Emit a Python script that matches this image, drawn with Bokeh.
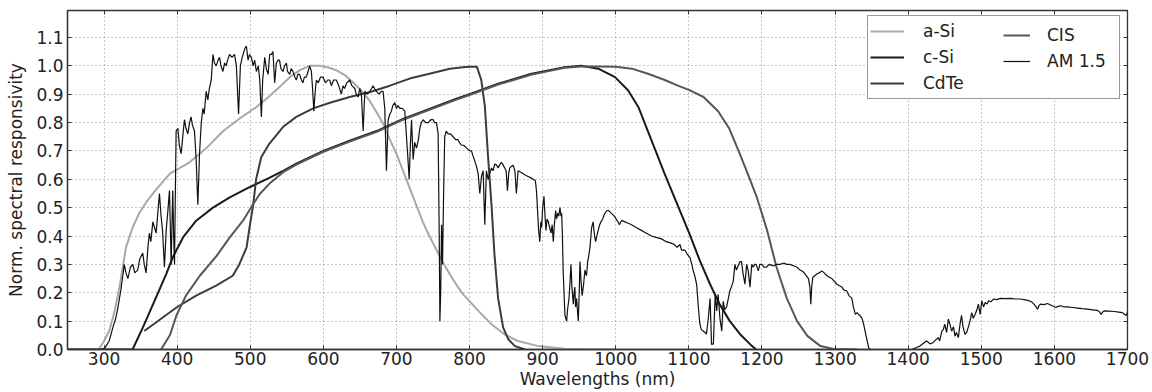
from bokeh.plotting import figure
from bokeh.models import (Legend, LegendItem, FixedTicker, PrintfTickFormatter,
                          LinearAxis, Range1d)
from bokeh.embed import file_html
from bokeh.resources import INLINE

# ---------------- data ----------------
x_ticks = [300, 400, 500, 600, 700, 800, 900, 1000, 1100, 1200, 1300, 1400, 1500, 1600, 1700]
y_ticks = [0.0, 0.1, 0.2, 0.3, 0.4, 0.5, 0.6, 0.7, 0.8, 0.9, 1.0, 1.1]

asi_wl = [250, 290, 294, 300, 307, 314, 321, 330, 339, 348, 358, 370, 390, 417, 440, 463,
          486, 508, 525, 540, 554, 568, 581, 595, 608, 618, 630, 640, 652, 663, 672, 682,
          690, 700, 709, 718, 727, 736, 745, 755, 764, 773, 782, 791, 800, 812, 830, 848,
          866, 894, 930, 1000]
asi_val = [0, 0, 0.005, 0.03, 0.065, 0.13, 0.218, 0.36, 0.43, 0.48, 0.52, 0.56, 0.62, 0.66,
           0.71, 0.77, 0.815, 0.854, 0.89, 0.925, 0.96, 0.985, 1.0, 1.0, 0.993, 0.984, 0.966,
           0.943, 0.912, 0.878, 0.84, 0.795, 0.745, 0.69, 0.63, 0.57, 0.51, 0.45, 0.40, 0.35,
           0.305, 0.265, 0.228, 0.195, 0.17, 0.136, 0.089, 0.053, 0.03, 0.012, 0.003, 0]

csi_wl = [250, 339, 353, 371, 385, 394, 408, 426, 449, 472, 499, 526, 545, 563, 600, 636,
          673, 709, 745, 782, 800, 839, 885, 930, 953, 976, 999, 1017, 1031, 1049, 1067,
          1086, 1101, 1115, 1129, 1142, 1156, 1170, 1184, 1192]
csi_val = [0, 0, 0.077, 0.183, 0.266, 0.325, 0.395, 0.454, 0.50, 0.536, 0.572, 0.605, 0.63,
           0.655, 0.70, 0.736, 0.77, 0.813, 0.848, 0.884, 0.90, 0.937, 0.972, 0.995, 1.0,
           0.99, 0.96, 0.913, 0.854, 0.736, 0.618, 0.50, 0.407, 0.313, 0.23, 0.16, 0.10,
           0.054, 0.018, 0.0]

cdte_wl = [355, 371, 399, 426, 454, 476, 485, 495, 499, 504, 508, 515, 526, 545, 563, 586,
           609, 636, 663, 691, 718, 745, 773, 791, 800, 810, 816, 821, 825, 830, 834, 839,
           846, 853, 862, 876]
cdte_val = [0.065, 0.095, 0.148, 0.19, 0.226, 0.26, 0.30, 0.36, 0.43, 0.51, 0.60, 0.678,
            0.725, 0.785, 0.82, 0.85, 0.87, 0.89, 0.907, 0.93, 0.955, 0.972, 0.99, 0.995,
            0.997, 0.997, 0.95, 0.855, 0.69, 0.51, 0.337, 0.18, 0.077, 0.036, 0.012, 0.0]

cis_wl = [378, 390, 399, 412, 431, 454, 472, 490, 501, 513, 526, 545, 563, 600, 636, 673,
          709, 745, 782, 800, 839, 885, 930, 953, 976, 1000, 1022, 1044, 1067, 1085, 1100,
          1120, 1140, 1155, 1168, 1179, 1193, 1207, 1220, 1234, 1248, 1262, 1280, 1298, 1330]
cis_val = [0, 0.05, 0.12, 0.19, 0.26, 0.33, 0.395, 0.454, 0.50, 0.548, 0.584, 0.625, 0.652,
           0.697, 0.733, 0.767, 0.81, 0.845, 0.881, 0.897, 0.934, 0.969, 0.993, 0.998, 0.998,
           0.997, 0.99, 0.972, 0.95, 0.93, 0.915, 0.89, 0.84, 0.78, 0.70, 0.63, 0.536, 0.42,
           0.289, 0.18, 0.10, 0.048, 0.012, 0.002, 0]

am15_wl = [250, 280, 295, 301, 307, 312, 316, 319, 323, 326, 327.6, 330, 332.6, 336, 339.4,
           342, 346, 349, 352.9, 355, 357.5, 360, 362, 364, 366.7, 369, 371.2, 373.5, 375.8,
           378, 380, 382.6, 385, 387, 389.5, 391.8, 393, 394, 395.2, 396.4, 397.5, 398.6,
           401, 403, 405.5, 408, 410, 412, 414.6, 417, 419, 421, 423.7, 426, 428.3, 429.5,
           430.6, 433, 435.2, 437, 439.7, 442, 444, 446.6, 448.9, 451, 453.4, 456, 458, 460,
           462.6, 465, 467, 469, 471.7, 475, 478.5, 481, 484, 486.5, 489, 492.4, 494.7, 497,
           499, 501.5, 504, 506, 508.4, 511, 513, 515.2, 517, 519.8, 522, 524.4, 526.6, 529,
           531, 533.4, 535.7, 538, 540, 542, 544.8, 547, 549.4, 551, 554, 556, 558.5, 561,
           563, 565, 567.6, 570, 572, 574, 576.7, 579, 581.3, 583.6, 585, 587, 588.5, 590.4,
           593, 596, 599.5, 603, 606, 608.6, 611, 614, 617.8, 621, 624.6, 627, 629, 632, 636,
           639, 643, 645, 647.5, 649.8, 652, 654.4, 656.7, 660, 663.5, 666, 668, 670, 672.6,
           676, 679, 681.7, 684, 686.3, 688.6, 691, 693, 695, 697.7, 700, 702, 704.6, 708,
           711.4, 713.7, 715.5, 717.4, 719, 720.6, 722.8, 725, 727.4, 730, 732, 734, 736.5,
           740, 743.4, 747, 750.2, 752, 754.8, 757, 758.5, 759.4, 760.5, 761.7, 763, 764.5,
           766, 768, 770.6, 774, 777.4, 781, 784, 786, 789, 792, 796, 800.4, 802.6, 805, 807,
           809, 811.7, 814, 816.3, 818.6, 820.8, 823, 825.4, 827.5, 830, 832, 834.5, 837, 839,
           841, 843.6, 846, 848, 850, 851.8, 853.5, 855, 857, 859.6, 862, 864, 866.4, 870,
           873, 876, 880, 884, 887, 890, 891.5, 893, 894.5, 896, 897.5, 898.6, 900, 901.8,
           903, 904.5, 906, 907.7, 909.5, 911.4, 913, 914.5, 916, 917.8, 919, 920.5, 922,
           923.7, 925, 926, 927, 928, 929.5, 930.5, 932.8, 934, 936, 937.5, 938.7, 940, 941.9,
           943, 944, 945, 946.4, 947.5, 948.7, 950, 951, 952.5, 954, 956, 957.8, 960, 961.5,
           963, 964.7, 966, 967, 969, 971, 972.5, 974, 976, 978, 979.7, 982, 985, 988, 990,
           992, 994, 998, 1003, 1005, 1008, 1012.5, 1017, 1021.6, 1028, 1035, 1042, 1049,
           1055, 1062.6, 1069, 1076, 1080, 1084, 1087.8, 1090, 1094.6, 1098, 1101.5, 1104,
           1106, 1108, 1110.6, 1113, 1115, 1117, 1119.6, 1122, 1124, 1126.6, 1129, 1130, 1131,
           1133.5, 1136, 1138, 1140, 1142.5, 1145, 1147, 1149, 1151.6, 1154, 1156, 1158,
           1160.7, 1163, 1165, 1167.5, 1170, 1172, 1174, 1176.7, 1179, 1181, 1183.6, 1186,
           1188, 1190, 1192, 1195, 1197, 1199.6, 1203, 1206, 1210, 1215.6, 1220, 1224.7, 1230,
           1233.8, 1238, 1243, 1248, 1252, 1256, 1259, 1263.6, 1265.5, 1266.8, 1268, 1269.5,
           1272, 1275, 1278, 1282, 1285, 1289, 1292, 1295.6, 1299, 1302.5, 1306, 1309.3, 1312,
           1316, 1319, 1323, 1325, 1327.7, 1330, 1332, 1334, 1336.8, 1339, 1341, 1343.5, 1346,
           1348, 1405, 1412, 1416, 1420, 1425, 1430, 1434, 1438, 1441, 1443, 1446, 1448, 1450,
           1452.5, 1455, 1457, 1459.5, 1462, 1464, 1466, 1468.6, 1471, 1473, 1475, 1477.7,
           1480, 1482, 1484.5, 1487, 1489, 1491.6, 1494, 1496, 1498.5, 1500.7, 1503, 1505.4,
           1508, 1510, 1513, 1517, 1521, 1526, 1533, 1540, 1547, 1553.5, 1560, 1565, 1569,
           1572, 1575, 1577, 1579, 1581, 1586, 1590.5, 1594, 1597, 1602, 1605, 1609, 1613,
           1618, 1625, 1631.6, 1638, 1645, 1652, 1659, 1662, 1664, 1666, 1668, 1675, 1682,
           1688, 1693, 1698, 1700]
am15_val = [0, 0, 0.0, 0.005, 0.03, 0.077, 0.11, 0.148, 0.21, 0.266, 0.30, 0.27, 0.25, 0.29,
            0.30, 0.27, 0.28, 0.32, 0.34, 0.30, 0.27, 0.36, 0.41, 0.38, 0.45, 0.43, 0.41,
            0.48, 0.55, 0.47, 0.42, 0.29, 0.42, 0.48, 0.56, 0.30, 0.45, 0.56, 0.40, 0.30,
            0.55, 0.77, 0.78, 0.72, 0.69, 0.76, 0.81, 0.78, 0.76, 0.80, 0.82, 0.79, 0.77,
            0.67, 0.51, 0.60, 0.69, 0.80, 0.85, 0.83, 0.91, 0.88, 0.92, 0.95, 1.04, 1.01,
            1.0, 1.02, 1.03, 1.0, 0.98, 1.01, 1.0, 1.02, 1.04, 1.03, 1.04, 1.0, 0.83, 1.0,
            1.03, 1.06, 1.07, 1.02, 1.04, 1.03, 1.0, 1.02, 0.98, 1.0, 0.95, 0.82, 0.95, 1.03,
            0.99, 0.97, 1.04, 1.04, 1.05, 0.94, 1.01, 1.02, 1.02, 0.99, 0.98, 1.0, 1.01, 0.98,
            0.97, 0.99, 0.98, 0.96, 0.95, 0.97, 0.97, 0.95, 0.94, 0.96, 0.96, 0.98, 1.0, 0.98,
            0.93, 0.84, 0.90, 0.95, 0.94, 0.96, 0.96, 0.94, 0.95, 0.95, 0.93, 0.95, 0.95,
            0.93, 0.90, 0.93, 0.92, 0.94, 0.95, 0.93, 0.92, 0.90, 0.89, 0.92, 0.90, 0.77,
            0.91, 0.90, 0.91, 0.92, 0.93, 0.92, 0.91, 0.90, 0.91, 0.91, 0.85, 0.63, 0.81,
            0.83, 0.84, 0.86, 0.87, 0.85, 0.86, 0.85, 0.85, 0.84, 0.75, 0.68, 0.60, 0.72,
            0.81, 0.67, 0.73, 0.71, 0.74, 0.78, 0.80, 0.81, 0.80, 0.80, 0.81, 0.81, 0.80,
            0.80, 0.76, 0.40, 0.10, 0.20, 0.44, 0.30, 0.55, 0.75, 0.77, 0.76, 0.76, 0.75,
            0.74, 0.74, 0.73, 0.72, 0.72, 0.71, 0.70, 0.70, 0.68, 0.666, 0.65, 0.62, 0.55,
            0.61, 0.63, 0.44, 0.63, 0.60, 0.62, 0.64, 0.63, 0.654, 0.65, 0.64, 0.65, 0.66,
            0.65, 0.64, 0.63, 0.56, 0.62, 0.64, 0.645, 0.65, 0.63, 0.55, 0.63, 0.625, 0.62,
            0.615, 0.61, 0.605, 0.60, 0.595, 0.56, 0.49, 0.42, 0.38, 0.45, 0.43, 0.50, 0.54,
            0.48, 0.42, 0.46, 0.45, 0.43, 0.41, 0.44, 0.38, 0.44, 0.49, 0.46, 0.48, 0.47,
            0.50, 0.47, 0.48, 0.40, 0.28, 0.18, 0.12, 0.10, 0.14, 0.18, 0.24, 0.30, 0.22,
            0.16, 0.20, 0.22, 0.15, 0.18, 0.14, 0.10, 0.20, 0.31, 0.24, 0.19, 0.23, 0.28,
            0.26, 0.31, 0.33, 0.36, 0.40, 0.43, 0.45, 0.40, 0.38, 0.40, 0.42, 0.44, 0.45,
            0.46, 0.48, 0.49, 0.49, 0.485, 0.48, 0.47, 0.45, 0.44, 0.455, 0.45, 0.445, 0.44,
            0.43, 0.42, 0.41, 0.40, 0.395, 0.39, 0.38, 0.375, 0.37, 0.36, 0.37, 0.35, 0.35,
            0.335, 0.324, 0.30, 0.277, 0.26, 0.23, 0.148, 0.09, 0.07, 0.065, 0.06, 0.054,
            0.11, 0.18, 0.10, 0.018, 0.02, 0.195, 0.136, 0.195, 0.11, 0.065, 0.17, 0.14,
            0.15, 0.18, 0.206, 0.22, 0.24, 0.30, 0.28, 0.295, 0.31, 0.31, 0.27, 0.23, 0.30,
            0.28, 0.22, 0.30, 0.29, 0.30, 0.30, 0.277, 0.30, 0.30, 0.29, 0.29, 0.30, 0.295,
            0.30, 0.30, 0.305, 0.30, 0.30, 0.295, 0.29, 0.28, 0.275, 0.266, 0.25, 0.22, 0.16,
            0.22, 0.254, 0.26, 0.266, 0.27, 0.277, 0.27, 0.26, 0.255, 0.25, 0.24, 0.23,
            0.225, 0.22, 0.21, 0.206, 0.19, 0.18, 0.15, 0.124, 0.13, 0.124, 0.12, 0.11, 0.09,
            0.065, 0.035, 0.006, 0.0, 0.0, 0.008, 0.012, 0.02, 0.03, 0.02, 0.024, 0.035,
            0.042, 0.03, 0.065, 0.07, 0.089, 0.06, 0.107, 0.09, 0.065, 0.08, 0.047, 0.06,
            0.042, 0.09, 0.12, 0.08, 0.053, 0.06, 0.077, 0.10, 0.13, 0.11, 0.124, 0.14, 0.16,
            0.124, 0.172, 0.15, 0.166, 0.16, 0.172, 0.168, 0.178, 0.176, 0.18, 0.179, 0.18,
            0.178, 0.178, 0.175, 0.172, 0.168, 0.16, 0.15, 0.142, 0.155, 0.16, 0.158, 0.162,
            0.158, 0.154, 0.148, 0.152, 0.154, 0.15, 0.15, 0.148, 0.146, 0.144, 0.142, 0.14,
            0.138, 0.132, 0.124, 0.132, 0.136, 0.135, 0.134, 0.132, 0.13, 0.12, 0.13]

series_labels = ["a-Si", "c-Si", "CdTe", "CIS", "AM 1.5"]

# ---------------- figure ----------------
FONT = "DejaVu Sans"
p = figure(width=1152, height=392, output_backend="svg", toolbar_location=None,
           x_range=Range1d(250, 1700), y_range=Range1d(0, 1.195),
           min_border_left=67, min_border_right=25, min_border_top=10,
           min_border_bottom=43, background_fill_color="white",
           border_fill_color="white")

p.outline_line_color = "#333333"
p.outline_line_width = 1.3

for ax in (p.xaxis[0], p.yaxis[0]):
    ax.axis_line_color = "#333333"
    ax.axis_line_width = 1.3
    ax.major_tick_in = 4
    ax.major_tick_out = 0
    ax.major_tick_line_color = "#333333"
    ax.minor_tick_line_color = None
    ax.major_label_text_font = FONT
    ax.major_label_text_font_size = "17px"
    ax.major_label_text_color = "#222222"
    ax.axis_label_text_font = FONT
    ax.axis_label_text_font_size = "17px"
    ax.axis_label_text_font_style = "normal"
    ax.axis_label_text_color = "#222222"

p.xaxis[0].ticker = FixedTicker(ticks=x_ticks)
p.yaxis[0].ticker = FixedTicker(ticks=y_ticks)
p.yaxis[0].formatter = PrintfTickFormatter(format="%.1f")
p.xaxis[0].axis_label = "Wavelengths (nm)"
p.yaxis[0].axis_label = "Norm. spectral responsivity"
p.xaxis[0].major_label_standoff = 2
p.xaxis[0].axis_label_standoff = 1
p.yaxis[0].major_label_standoff = 4
p.yaxis[0].axis_label_standoff = 7

# inward ticks on top and right (no labels painted)
for side, tks in (("above", x_ticks), ("right", y_ticks)):
    ax = LinearAxis(ticker=FixedTicker(ticks=tks))
    ax.axis_line_color = None
    ax.major_tick_in = 4
    ax.major_tick_out = 0
    ax.major_tick_line_color = "#333333"
    ax.minor_tick_line_color = None
    ax.major_label_text_font_size = "1px"
    ax.major_label_text_color = None
    ax.major_label_standoff = 0
    p.add_layout(ax, side)

p.xgrid.ticker = FixedTicker(ticks=x_ticks)
p.ygrid.ticker = FixedTicker(ticks=y_ticks)
for g in (p.xgrid[0], p.ygrid[0]):
    g.grid_line_color = "#8a8a8a"
    g.grid_line_dash = "1 3"
    g.grid_line_width = 1

r_asi = p.line(asi_wl, asi_val, line_color="#a8a8a8", line_width=2)
r_csi = p.line(csi_wl, csi_val, line_color="#1a1a1a", line_width=2)
r_cdte = p.line(cdte_wl, cdte_val, line_color="#3c3c3c", line_width=2)
r_cis = p.line(cis_wl, cis_val, line_color="#575757", line_width=2)
r_am = p.line(am15_wl, am15_val, line_color="#111111", line_width=1.2)

renderers = [r_asi, r_csi, r_cdte, r_cis, r_am]

common = dict(label_text_font=FONT, label_text_font_size="17px",
              label_text_color="#222222", glyph_height=26, label_height=26,
              spacing=0, padding=2)

leg_a = Legend(items=[LegendItem(label=series_labels[i], renderers=[renderers[i]]) for i in range(3)],
               location=(800, 250), border_line_color="#333333", border_line_width=1.3,
               background_fill_color="white", background_fill_alpha=1.0,
               glyph_width=34, label_standoff=19, label_width=194, **common)
leg_b = Legend(items=[LegendItem(label=series_labels[i], renderers=[renderers[i]]) for i in range(3, 5)],
               location=(936, 275), border_line_color=None, background_fill_alpha=0.0,
               glyph_width=27, label_standoff=17, **common)
p.add_layout(leg_a)
p.add_layout(leg_b)

open("out.html", "w").write(file_html(p, INLINE))
